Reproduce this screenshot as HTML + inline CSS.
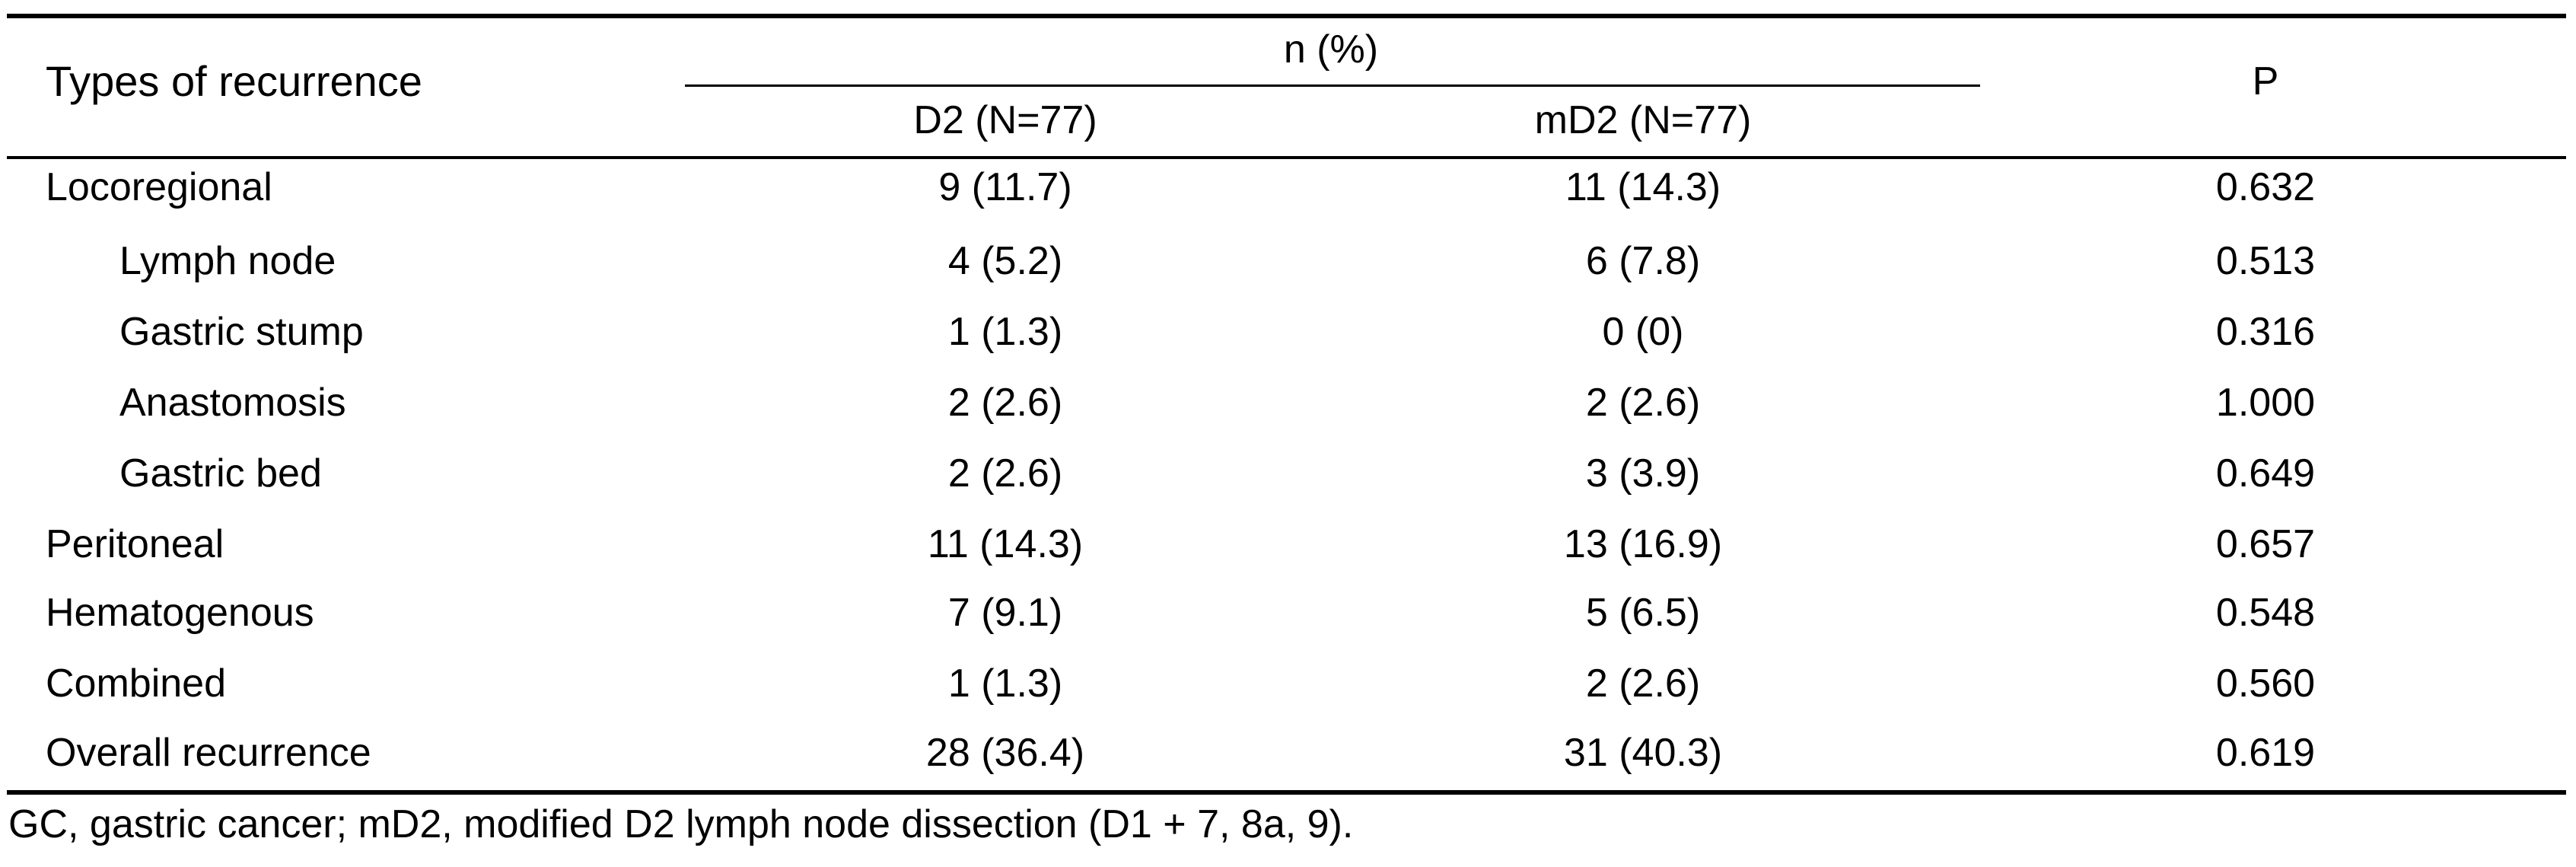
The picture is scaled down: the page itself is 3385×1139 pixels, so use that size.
<!DOCTYPE html>
<html><head><meta charset="utf-8"><style>
html,body{margin:0;padding:0;background:#fff;}
body{width:3385px;height:1139px;position:relative;overflow:hidden;font-family:"Liberation Sans",Arial,sans-serif;color:#000;}
.t{position:absolute;font-size:52px;line-height:60px;height:60px;white-space:nowrap;}
.c{transform:translateX(-50%);}
.ln{position:absolute;background:#000;}
</style></head><body>
<div class="ln" style="left:9px;width:3363px;top:18px;height:6px"></div>
<div class="ln" style="left:900px;width:1702px;top:111px;height:3px"></div>
<div class="ln" style="left:9px;width:3363px;top:205px;height:4px"></div>
<div class="ln" style="left:9px;width:3363px;top:1038px;height:6px"></div>

<div class="t" style="left:60px;top:77px;font-size:56px">Types of recurrence</div>
<div class="t c" style="left:1749px;top:35px">n (%)</div>
<div class="t c" style="left:1321px;top:128px">D2 (N=77)</div>
<div class="t c" style="left:2159px;top:128px">mD2 (N=77)</div>
<div class="t c" style="left:2977px;top:77px">P</div>

<div class="t" style="left:11px;top:1053px">GC, gastric cancer; mD2, modified D2 lymph node dissection (D1 + 7, 8a, 9).</div>
<script>
const labels=["Locoregional","Lymph node","Gastric stump","Anastomosis","Gastric bed","Peritoneal","Hematogenous","Combined","Overall recurrence"];
const indent=[0,1,1,1,1,0,0,0,0];
const d2=["9 (11.7)","4 (5.2)","1 (1.3)","2 (2.6)","2 (2.6)","11 (14.3)","7 (9.1)","1 (1.3)","28 (36.4)"];
const md2=["11 (14.3)","6 (7.8)","0 (0)","2 (2.6)","3 (3.9)","13 (16.9)","5 (6.5)","2 (2.6)","31 (40.3)"];
const pvals=["0.632","0.513","0.316","1.000","0.649","0.657","0.548","0.560","0.619"];
const rowY=[246,343,436,529,622,715,805,898,989];
const root=document.body;
function cell(txt,x,y,center,name){
  const d=document.createElement('div');
  d.className='t'+(center?' c':'');
  d.style.left=x+'px';d.style.top=(y-30)+'px';
  d.textContent=txt;
  
  
  root.appendChild(d);
}
labels.forEach((l,i)=>{
  const slug=l.toLowerCase().replace(/\s+/g,'-');
  cell(l,indent[i]?157:60,rowY[i],false,'row-label-'+slug);
  cell(d2[i],1321,rowY[i],true,'d2-value-'+slug);
  cell(md2[i],2159,rowY[i],true,'md2-value-'+slug);
  cell(pvals[i],2977,rowY[i],true,'p-value-'+slug);
});
</script>
</body></html>
